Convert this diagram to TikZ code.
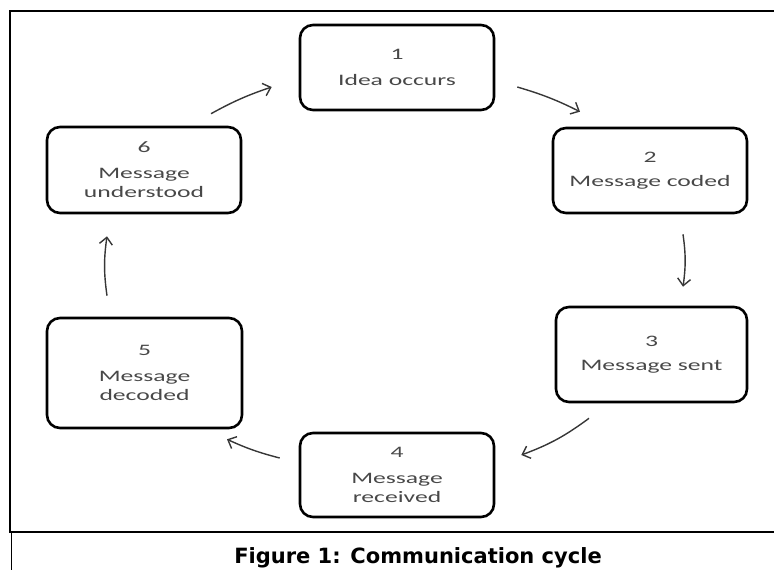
\documentclass[tikz,border=0pt]{standalone}
\usepackage{fontspec}
\usepackage{tikz}
\usetikzlibrary{arrows.meta,calc}
\newfontfamily\boxfont[FakeStretch=1.6]{Carlito}
\newfontfamily\capfont{DejaVu Sans}
\definecolor{mygray}{RGB}{72,72,72}
\definecolor{mydark}{RGB}{55,55,55}
\tikzset{
    stage/.style={draw=black, line width=2.6pt, rounded corners=13pt, align=center,
        text=mygray, inner sep=0pt, font=\boxfont\fontsize{16}{19}\selectfont},
    flow/.style={draw=mydark, line width=1.4pt, -{Straight Barb[length=7pt,width=13pt]}}
}

\begin{document}
\begin{tikzpicture}[x=1pt, y=-1pt]
    \useasboundingbox (0,0) rectangle (774,570);
    % Frame
    \draw[line width=2.4pt] (774,11) -- (10,11) -- (10,532) -- (774,532);
    \draw[line width=1.4pt] (11.5,532) -- (11.5,570);

    % Stages of the cycle
    \node[stage, minimum width=194pt, minimum height=85pt] (b1) at (397,67.5) {1\\[7pt]Idea occurs};
    \node[stage, minimum width=194pt, minimum height=85pt] (b2) at (650,170.5) {2\\[5pt]Message coded};
    \node[stage, minimum width=191pt, minimum height=95pt] (b3) at (651.5,354.5) {3\\[5pt]Message sent};
    \node[stage, minimum width=194pt, minimum height=84pt] (b4) at (397,475) {4\\[7pt]Message\\received};
    \node[stage, minimum width=195pt, minimum height=110pt] (b5) at (144.5,373) {5\\[7pt]Message\\decoded};
    \node[stage, minimum width=194pt, minimum height=86pt] (b6) at (144,170) {6\\[7pt]Message\\understood};

    % Arrows between stages
    \draw[flow] ($(b6.north)+(67,-12)$) to[bend left=5] ($(b1.west)+(-27,19.5)$);
    \draw[flow] ($(b1.east)+(22,19.5)$) to[bend left=5] ($(b2.north)+(-70,-15)$);
    \draw[flow] ($(b2.south)+(33,20)$) to[bend left=8] ($(b3.north)+(31.5,-19)$);
    \draw[flow] ($(b3.south)+(-62.5,15)$) to[bend left=8] ($(b4.east)+(26,-20)$);
    \draw[flow] ($(b4.west)+(-19,-17)$) to[bend left=5] ($(b5.south)+(82.5,10)$);
    \draw[flow] ($(b5.north)+(-37.5,-21)$) to[bend left=8] ($(b6.south)+(-37,22)$);

    % Caption
    \node[anchor=base, font=\capfont\bfseries\fontsize{21}{25}\selectfont] (cap) at (418,563.5) {Figure 1: Communication cycle};
\end{tikzpicture}
\end{document}
